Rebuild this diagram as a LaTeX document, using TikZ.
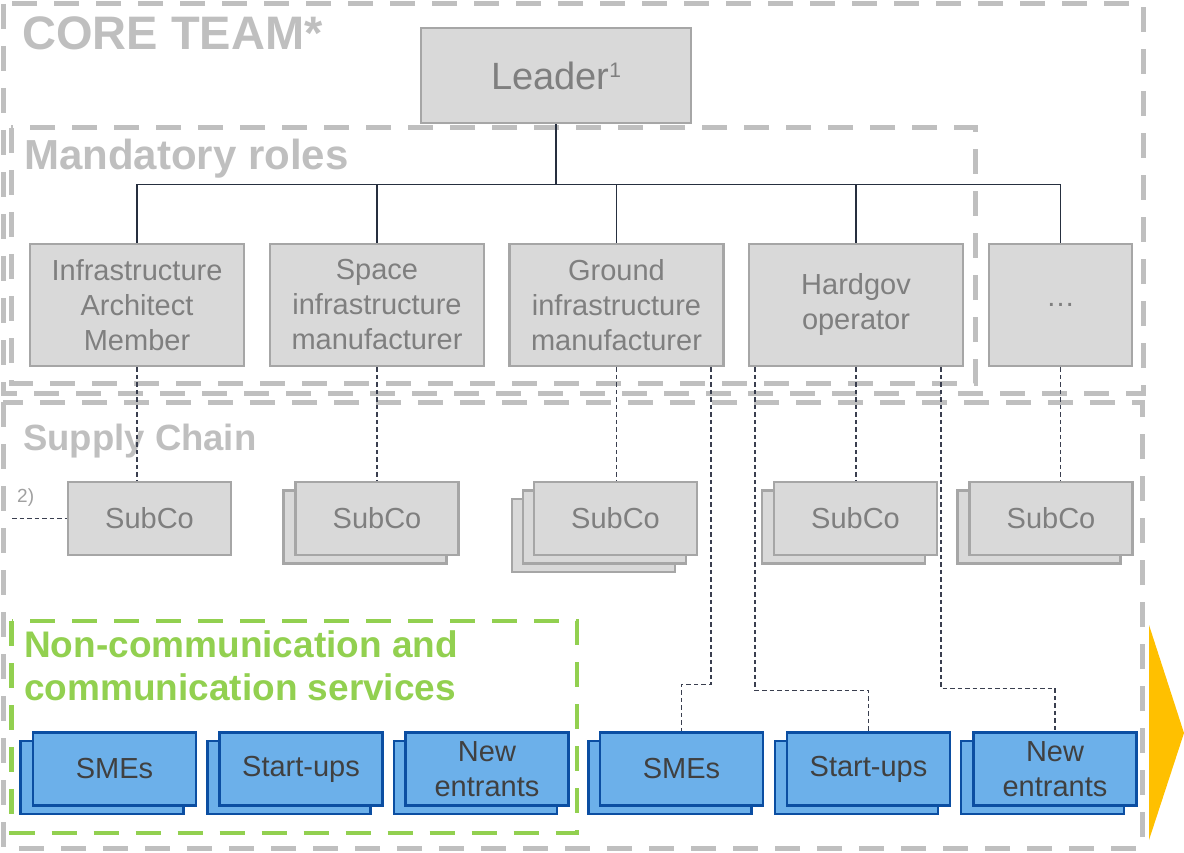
\documentclass[tikz,border=0pt]{standalone}
\usepackage{fontspec}
\setmainfont{Liberation Sans}
\definecolor{grpgray}{HTML}{BFBFBF}
\definecolor{grngreen}{HTML}{92D050}
\definecolor{boxborder}{HTML}{A6A6A6}
\definecolor{boxfill}{HTML}{D9D9D9}
\definecolor{boxtext}{HTML}{7F7F7F}
\definecolor{blueborder}{HTML}{0B4EA2}
\definecolor{bluefill}{HTML}{6CB0EA}
\definecolor{bluetext}{HTML}{404040}
\definecolor{treecol}{HTML}{262F3F}
\definecolor{conncol}{HTML}{3A3F4F}
\definecolor{arrowcol}{HTML}{FFC000}
\definecolor{notecol}{HTML}{A0A0A0}
\begin{document}
\begin{tikzpicture}[x=1pt,y=-1pt,
  grp/.style={draw=grpgray, line width=5pt, dash pattern=on 25pt off 17pt},
  grn/.style={draw=grngreen, line width=4.5pt, dash pattern=on 25pt off 17pt},
  gbox/.style={draw=boxborder, fill=boxfill, line width=2.5pt, inner sep=0pt, text=boxtext, font=\fontsize{29}{35}\selectfont, align=center},
  role/.style={gbox, minimum width=214pt, minimum height=122pt},
  subbox/.style={gbox, minimum width=163pt, minimum height=73pt},
  bluebox/.style={draw=blueborder, fill=bluefill, line width=2.5pt, minimum width=163pt, minimum height=73pt, inner sep=0pt, text=bluetext, font=\fontsize{29}{35}\selectfont, align=center},
  tree/.style={draw=treecol, line width=1.3pt},
  conn/.style={draw=conncol, line width=1.1pt, dash pattern=on 4.5pt off 3pt},
  title/.style={text=grpgray, anchor=base west, inner sep=0pt},
]
\useasboundingbox (0,0) rectangle (1184,853);

% group frames
\draw[grp] (3,4) rectangle (1143,393);
\draw[grp] (11,128) rectangle (975,383);
\draw[grp] (3,402) rectangle (1142,848);
\draw[grn] (11.5,621) rectangle (577,833);

% titles
\node[title, font=\fontsize{47}{50}\bfseries] (tcore) at (22,50) {CORE TEAM*};
\node[title, font=\fontsize{42}{46}\bfseries] (tmand) at (24,170) {Mandatory roles};
\node[title, font=\fontsize{36.5}{40}\bfseries] (tsup) at (23,450) {Supply Chain};
\node[title, text=grngreen, font=\fontsize{37}{43}\bfseries] (tgreen1) at (24,657) {Non-communication and};
\node[title, text=grngreen, font=\fontsize{37}{43}\bfseries] (tgreen2) at (24,700) {communication services};

% leader and roles
\node[gbox, minimum width=270pt, minimum height=95pt, font=\fontsize{38}{40}\selectfont] (leader) at (556,75.5) {Leader\raisebox{12pt}{\fontsize{21}{21}\selectfont 1}};
\node[role] (r1) at (137,305) {Infrastructure\\Architect\\Member};
\node[role] (r2) at (377,305) {Space\\infrastructure\\manufacturer};
\node[role] (r3) at (616.5,305) {Ground\\infrastructure\\manufacturer};
\node[role] (r4) at (856,305) {Hardgov\\operator};
\node[role, minimum width=143pt] (r5) at (1060.5,305) {…};

\draw[tree] (leader.south) -- ++(0,60) -| (r1.north);
\draw[tree] (leader.south) -- ++(0,60) -| (r2.north);
\draw[tree] (leader.south) -- ++(0,60) -| (r3.north);
\draw[tree] (leader.south) -- ++(0,60) -| (r4.north);
\draw[tree] (leader.south) -- ++(0,60) -| (r5.north);

% subcontractors
\node[subbox] (s1) at (149.5,518.5) {SubCo};
\node[subbox] (s2b) at (365,527) {};
\node[subbox] (s2) at (377,518.5) {SubCo};
\node[subbox] (s3c) at (593.5,535.5) {};
\node[subbox] (s3b) at (604.5,527) {};
\node[subbox] (s3) at (615.5,518.5) {SubCo};
\node[subbox] (s4b) at (843.5,527) {};
\node[subbox] (s4) at (855.5,518.5) {SubCo};
\node[subbox] (s5b) at (1039,527) {};
\node[subbox] (s5) at (1051,518.5) {SubCo};

\draw[conn] (r1.south) -- (r1.south |- s1.north);
\draw[conn] (r2.south) -- (r2.south |- s2.north);
\draw[conn] (r3.south) -- (r3.south |- s3.north);
\draw[conn] (r4.south) -- (r4.south |- s4.north);
\draw[conn] (r5.south) -- (r5.south |- s5.north);

\coordinate (twoend) at (12,518.5);
\draw[conn] (twoend) -- (s1.west);
\node[text=notecol, font=\fontsize{19}{20}\selectfont, anchor=west, inner sep=0pt] (two) at (17,498) {2)};

% blue boxes
\node[bluebox] (b1b) at (102,777.5) {};
\node[bluebox] (b1) at (114.5,769) {SMEs};
\node[bluebox] (b2b) at (289,777.5) {};
\node[bluebox] (b2) at (301,769) {Start-ups};
\node[bluebox] (b3b) at (475.5,777.5) {};
\node[bluebox] (b3) at (487,769) {New\\entrants};
\node[bluebox] (b4b) at (670,777.5) {};
\node[bluebox] (b4) at (681.5,769) {SMEs};
\node[bluebox] (b5b) at (856.5,777.5) {};
\node[bluebox] (b5) at (868.5,769) {Start-ups};
\node[bluebox] (b6b) at (1042.5,777.5) {};
\node[bluebox] (b6) at (1055,769) {New\\entrants};

\draw[conn] ([xshift=94.5pt]r3.south) -- ++(0,317) -| (b4.north);
\draw[conn] ([xshift=-101pt]r4.south) -- ++(0,323) -| (b5.north);
\draw[conn] ([xshift=85pt]r4.south) -- ++(0,321) -| (b6.north);

% arrow
\fill[arrowcol] (1149,625) -- (1184,733) -- (1149,840) -- cycle;
\end{tikzpicture}
\end{document}
